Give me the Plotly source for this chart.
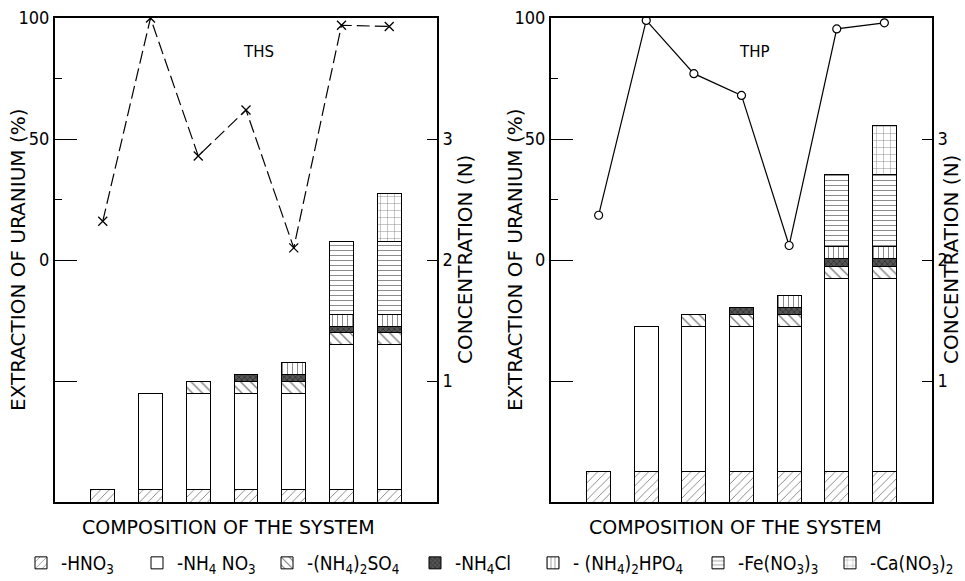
import plotly.graph_objects as go
from plotly.subplots import make_subplots

# ---------------- data ----------------
system_no = [1, 2, 3, 4, 5, 6, 7]

# extraction of uranium (%)
ths_extraction = [16, 100, 43, 62, 5, 97, 96.5]
thp_extraction = [18.5, 99, 77, 68, 6, 95.5, 98]

components = ["HNO3", "NH4NO3", "(NH4)2SO4", "NH4Cl", "(NH4)2HPO4", "Fe(NO3)3", "Ca(NO3)2"]
legend_labels = [
    "-HNO<sub>3</sub>",
    "-NH<sub>4</sub> NO<sub>3</sub>",
    "-(NH<sub>4</sub>)<sub>2</sub>SO<sub>4</sub>",
    "-NH<sub>4</sub>Cl",
    "- (NH<sub>4</sub>)<sub>2</sub>HPO<sub>4</sub>",
    "-Fe(NO<sub>3</sub>)<sub>3</sub>",
    "-Ca(NO<sub>3</sub>)<sub>2</sub>",
]

# concentration (N) of each component, THS system
ths_hno3 = [0.1, 0.1, 0.1, 0.1, 0.1, 0.1, 0.1]
ths_nh4no3 = [None, 0.8, 0.8, 0.8, 0.8, 1.2, 1.2]
ths_so4 = [None, None, 0.1, 0.1, 0.1, 0.1, 0.1]
ths_nh4cl = [None, None, None, 0.05, 0.05, 0.05, 0.05]
ths_hpo4 = [None, None, None, None, 0.1, 0.1, 0.1]
ths_fe = [None, None, None, None, None, 0.6, 0.6]
ths_ca = [None, None, None, None, None, None, 0.4]

# concentration (N) of each component, THP system
thp_hno3 = [0.25, 0.25, 0.25, 0.25, 0.25, 0.25, 0.25]
thp_nh4no3 = [None, 1.2, 1.2, 1.2, 1.2, 1.6, 1.6]
thp_so4 = [None, None, 0.1, 0.1, 0.1, 0.1, 0.1]
thp_nh4cl = [None, None, None, 0.06, 0.06, 0.06, 0.06]
thp_hpo4 = [None, None, None, None, 0.1, 0.1, 0.1]
thp_fe = [None, None, None, None, None, 0.6, 0.6]
thp_ca = [None, None, None, None, None, None, 0.4]

ths_series = [ths_hno3, ths_nh4no3, ths_so4, ths_nh4cl, ths_hpo4, ths_fe, ths_ca]
thp_series = [thp_hno3, thp_nh4no3, thp_so4, thp_nh4cl, thp_hpo4, thp_fe, thp_ca]

left_ticks = [-50, 0, 50, 100]
left_ticktext = ["", "0", "50", "100"]
right_ticks = [1, 2, 3]

# ---------------- styles / layout constants ----------------
W, H = 965, 581
FONT = "Liberation Sans Narrow, DejaVu Sans Condensed, Arial Narrow, sans-serif"
TFONT = "DejaVu Sans, sans-serif"

patterns = [
    dict(shape="/", fgcolor="black", bgcolor="white", size=6, solidity=0.15),
    dict(shape="", fgcolor="black", bgcolor="white"),
    dict(shape="\\", fgcolor="black", bgcolor="white", size=7, solidity=0.2),
    dict(shape="x", fgcolor="#111111", bgcolor="#555555", size=4, solidity=0.4),
    dict(shape="|", fgcolor="black", bgcolor="white", size=5, solidity=0.18),
    dict(shape="-", fgcolor="black", bgcolor="white", size=5, solidity=0.18),
    dict(shape="+", fgcolor="black", bgcolor="white", size=7, solidity=0.12),
]
legend_symbol_centers = [40, 156, 286, 434, 552, 717, 849]

fig = make_subplots(rows=1, cols=2, specs=[[{"secondary_y": True}, {"secondary_y": True}]])

for col, series in ((1, ths_series), (2, thp_series)):
    for i, vals in enumerate(series):
        fig.add_trace(
            go.Bar(
                x=system_no, y=vals, width=0.5,
                name=legend_labels[i], legendgroup=components[i],
                legend="legend" if i == 0 else f"legend{i + 1}",
                showlegend=(col == 1),
                marker=dict(color="white", line=dict(color="black", width=1), pattern=patterns[i]),
            ),
            row=1, col=col, secondary_y=True,
        )

fig.add_trace(
    go.Scatter(
        x=system_no, y=ths_extraction, mode="lines+markers", showlegend=False,
        line=dict(color="black", width=1.2, dash="13px,5px"),
        marker=dict(symbol="x-thin-open", size=9, line=dict(color="black", width=1.3)),
    ),
    row=1, col=1, secondary_y=False,
)
fig.add_trace(
    go.Scatter(
        x=system_no, y=thp_extraction, mode="lines+markers", showlegend=False,
        line=dict(color="black", width=1.2),
        marker=dict(symbol="circle", size=8, color="white", line=dict(color="black", width=1.2)),
    ),
    row=1, col=2, secondary_y=False,
)

# ---------------- axes ----------------
ydom = [1 - 502 / H, 1 - 18 / H]
fig.update_xaxes(range=[0, 8], showticklabels=False, ticks="", showgrid=False, zeroline=False,
                 showline=True, linecolor="black", linewidth=2, mirror=True, automargin=False)
fig.update_xaxes(domain=[55 / W, 437 / W], row=1, col=1)
fig.update_xaxes(domain=[551 / W, 932 / W], row=1, col=2)

fig.update_yaxes(domain=ydom, range=[-100, 100], tickvals=left_ticks, ticktext=left_ticktext,
                 ticks="inside", ticklen=22, tickwidth=1.3, tickcolor="black",
                 minor=dict(tickvals=[25, 75], ticks="inside", ticklen=7, tickcolor="black"),
                 showgrid=False, zeroline=False, showline=True, linecolor="black", linewidth=2,
                 tickfont=dict(family=FONT, size=18, color="black"), automargin=False,
                 secondary_y=False)
fig.update_yaxes(domain=ydom, range=[0, 4], tickvals=right_ticks, side="right",
                 ticks="inside", ticklen=10, tickwidth=1.3, tickcolor="black",
                 showgrid=False, zeroline=False, showline=True, linecolor="black", linewidth=2,
                 tickfont=dict(family=FONT, size=18, color="black"), automargin=False,
                 secondary_y=True)

# axis titles
ymid = 1 - 260 / H
title_font = dict(family=TFONT, size=20, color="black")
for xc in (18, 515):
    fig.add_annotation(text="EXTRACTION OF URANIUM (%)", x=xc / W, y=ymid, xref="paper", yref="paper",
                       xanchor="center", yanchor="middle",
                       textangle=-90, showarrow=False, font=title_font)
for xc in (465, 951):
    fig.add_annotation(text="CONCENTRATION (N)", x=xc / W, y=ymid, xref="paper", yref="paper",
                       xanchor="center", yanchor="middle",
                       textangle=-90, showarrow=False, font=title_font)
for xc in (228, 735):
    fig.add_annotation(text="COMPOSITION OF THE SYSTEM", x=xc / W, y=1 - 527 / H, xref="paper",
                       yref="paper", xanchor="center", yanchor="middle", showarrow=False,
                       font=dict(family=TFONT, size=19, color="black"))

fig.add_annotation(text="THS", x=4.27, y=86, xref="x", yref="y", showarrow=False,
                   xanchor="center", yanchor="middle", font=dict(family=TFONT, size=15, color="black"))
fig.add_annotation(text="THP", x=4.28, y=86, xref="x2", yref="y3", showarrow=False,
                   xanchor="center", yanchor="middle", font=dict(family=TFONT, size=15, color="black"))

legends = {}
for i, c in enumerate(legend_symbol_centers):
    key = "legend" if i == 0 else f"legend{i + 1}"
    legends[key] = dict(orientation="h", x=(c - 19) / W, xanchor="left", y=1 - 563 / H, yanchor="middle",
                        font=dict(family=FONT, size=19, color="black"), itemwidth=30,
                        bgcolor="rgba(0,0,0,0)")

fig.update_layout(
    width=W, height=H,
    margin=dict(l=0, r=0, t=0, b=0, autoexpand=False),
    paper_bgcolor="white", plot_bgcolor="white",
    barmode="stack",
    showlegend=True,
    **legends,
)

fig.write_html("out.html", config={"displayModeBar": False},
               post_script="document.body.style.margin='0';")
